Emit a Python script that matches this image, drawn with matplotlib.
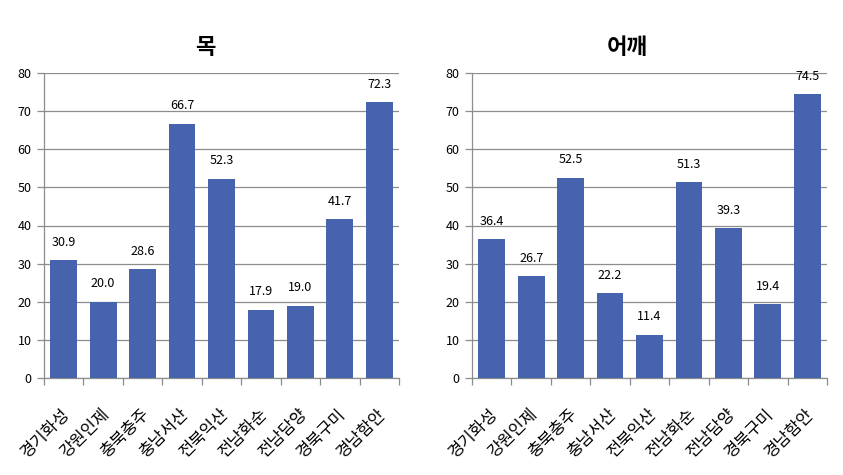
import matplotlib
matplotlib.use("Agg")
import matplotlib.pyplot as plt
import matplotlib.transforms as mtransforms

plt.rcParams['font.family'] = ['Noto Sans CJK KR', 'DejaVu Sans']

categories = ['경기화성', '강원인제', '충북충주', '충남서산', '전북익산', '전남화순', '전남담양', '경북구미', '경남함안']
neck = [30.9, 20.0, 28.6, 66.7, 52.3, 17.9, 19.0, 41.7, 72.3]
shoulder = [36.4, 26.7, 52.5, 22.2, 11.4, 51.3, 39.3, 19.4, 74.5]
titles = ['목', '어깨']
yticks = [0, 10, 20, 30, 40, 50, 60, 70, 80]

fig = plt.figure(figsize=(8.43, 4.75), dpi=100)
color = '#4763AE'
grid_c = '#8c8c8c'
lefts = [44 / 843, 472 / 843]
title_x = [205 / 843, 627 / 843]
offset = mtransforms.ScaledTranslation(4 / 100, -33.5 / 100, fig.dpi_scale_trans)
for left, tx, title, vals in zip(lefts, title_x, titles, [neck, shoulder]):
    ax = fig.add_axes([left, 1 - 378 / 475, 355 / 843, 305 / 475])
    x = list(range(len(categories)))
    ax.bar(x, vals, width=0.68, color=color, zorder=3)
    for xi, v in zip(x, vals):
        ax.text(xi, v + 3, f'{v:.1f}', ha='center', va='bottom', fontsize=9, zorder=4)
    ax.set_xlim(-0.5, len(categories) - 0.5)
    ax.set_ylim(0, 80)
    ax.set_yticks(yticks)
    ax.set_yticklabels([str(t) for t in yticks], fontsize=9)
    ax.yaxis.grid(True, color=grid_c, linewidth=0.9, zorder=0)
    ax.set_xticks([i - 0.5 for i in range(len(categories) + 1)])
    ax.set_xticklabels([])
    ax.tick_params(axis='x', length=5, color=grid_c, width=0.9)
    trans = ax.get_xaxis_transform() + offset
    for xi, lab in zip(x, categories):
        ax.text(xi, 0, lab, transform=trans, rotation=45, ha='right', va='center',
                rotation_mode='anchor', fontsize=12, clip_on=False)
    ax.tick_params(axis='y', length=5, color=grid_c, width=0.9, pad=4)
    for s in ['top', 'right']:
        ax.spines[s].set_visible(False)
    for s in ['left', 'bottom']:
        ax.spines[s].set_color(grid_c)
        ax.spines[s].set_linewidth(0.9)
    fig.text(tx, 1 - 47 / 475, title, fontsize=16, fontweight='bold', ha='center', va='center')

fig.savefig('out.png', dpi=100)
